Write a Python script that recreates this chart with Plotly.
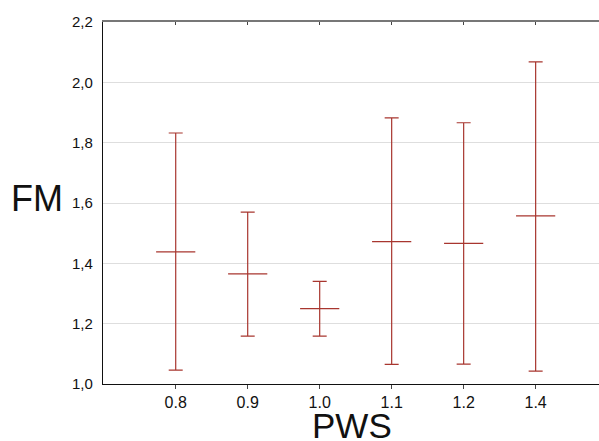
import plotly.graph_objects as go

categories = ["0.8", "0.9", "1.0", "1.1", "1.2", "1.4"]
means = [1.438, 1.365, 1.250, 1.472, 1.466, 1.557]
upper = [1.832, 1.570, 1.340, 1.882, 1.866, 2.068]
lower = [1.046, 1.159, 1.159, 1.065, 1.066, 1.043]

y_ticks = [1.0, 1.2, 1.4, 1.6, 1.8, 2.0, 2.2]

err_plus = [u - m for u, m in zip(upper, means)]
err_minus = [m - l for m, l in zip(means, lower)]
xpos = list(range(len(categories)))

color = "#a8362f"

fig = go.Figure()
fig.add_trace(go.Scatter(
    x=xpos, y=means, mode="markers",
    marker=dict(symbol="line-ew", size=28, line=dict(color=color, width=1.2)),
    error_y=dict(type="data", symmetric=False, array=err_plus, arrayminus=err_minus,
                 color=color, thickness=1.2, width=7),
    showlegend=False,
))
# invisible trace on top axis for mirrored ticks
fig.add_trace(go.Scatter(x=xpos, y=means, xaxis="x2", mode="markers",
                         marker=dict(opacity=0), showlegend=False, hoverinfo="skip"))

# plot area at x 103..599, y 22..384
fig.update_layout(
    width=599, height=441,
    margin=dict(l=103, r=0, t=22, b=57),
    paper_bgcolor="white", plot_bgcolor="white",
    separators=",.",
    font=dict(family="Liberation Sans, Arial, sans-serif", color="#111111"),
    xaxis=dict(
        range=[-1.01, 5.88], tickmode="array", tickvals=xpos, ticktext=categories,
        showgrid=False, zeroline=False, showline=True, linecolor="#111111", linewidth=1.3,
        ticks="outside", ticklen=4, tickcolor="#444444", tickfont=dict(size=16),
    ),
    xaxis2=dict(
        range=[-1.01, 5.88], overlaying="x", side="top", tickmode="array", tickvals=xpos,
        showticklabels=False, showgrid=False, zeroline=False, showline=True,
        linecolor="#777777", linewidth=1.5, ticks="inside", ticklen=3, tickcolor="#444444",
    ),
    yaxis=dict(
        range=[1.0, 2.2], tickmode="array", tickvals=y_ticks, tickformat=".1f",
        showgrid=True, gridcolor="#dedede", gridwidth=1, zeroline=False,
        showline=True, linecolor="#111111", linewidth=1.3, ticks="", ticklabelstandoff=6,
        tickfont=dict(size=15),
    ),
    annotations=[
        dict(text="FM", xref="paper", yref="paper", x=(37 - 103) / 496, y=(384 - 198) / 362,
             xanchor="center", yanchor="middle", showarrow=False,
             font=dict(size=36, color="#111111")),
        dict(text="PWS", xref="paper", yref="paper", x=(352 - 103) / 496, y=(384 - 425) / 362,
             xanchor="center", yanchor="middle", showarrow=False,
             font=dict(size=35, color="#111111")),
    ],
)

fig.write_html(
    "out.html",
    config={"displayModeBar": False},
    post_script="document.body.style.margin='0';document.body.style.overflow='hidden';",
)
